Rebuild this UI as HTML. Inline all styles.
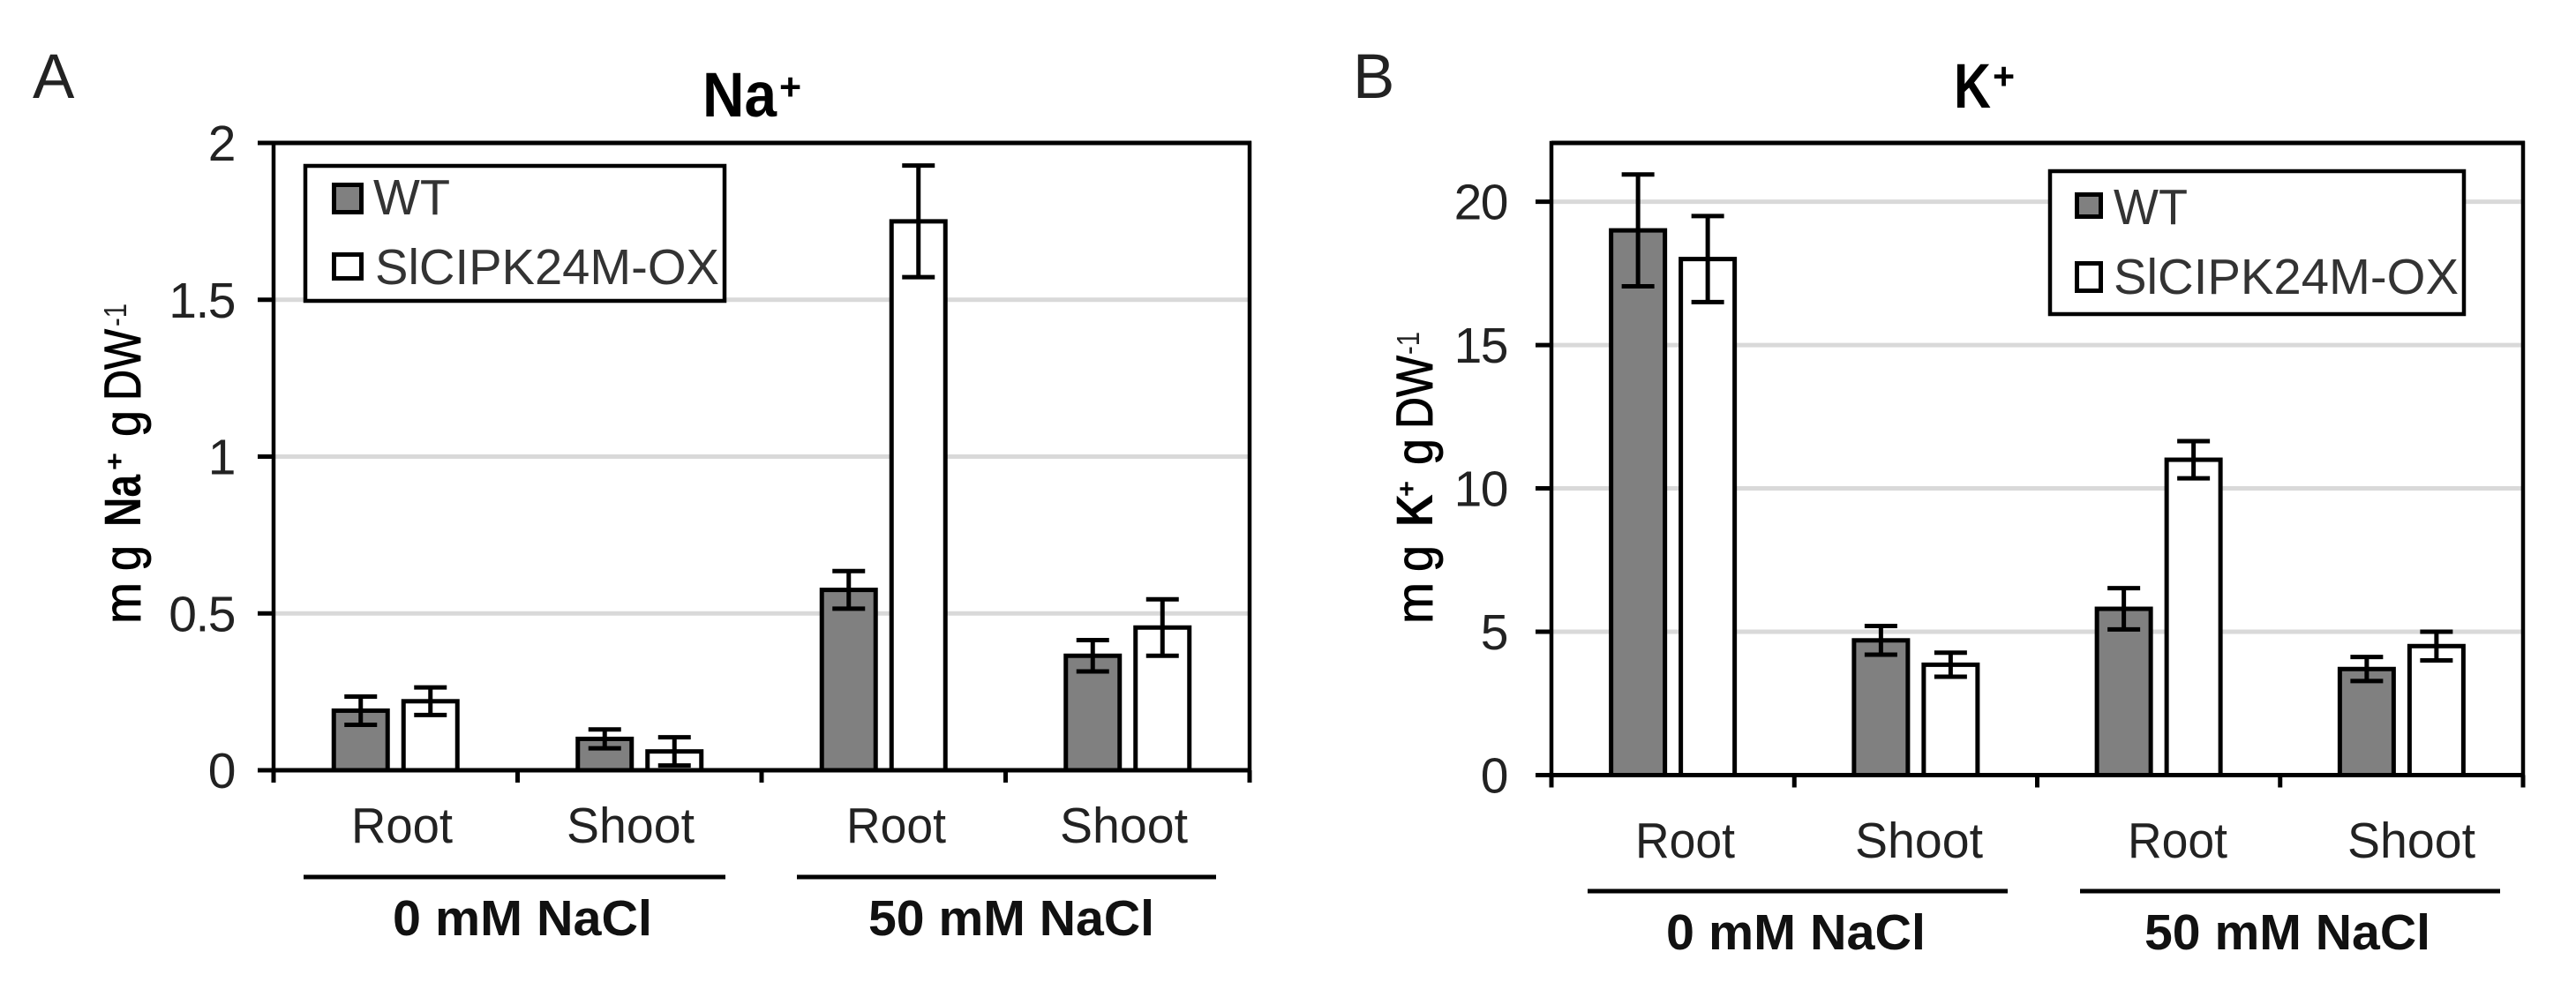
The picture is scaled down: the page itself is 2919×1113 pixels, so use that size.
<!DOCTYPE html>
<html lang="en">
<head>
<meta charset="utf-8">
<title>Na+ and K+ content</title>
<style>
html,body{margin:0;padding:0;background:#fff;}
svg{display:block;}
text{font-family:"Liberation Sans",sans-serif;fill:#111;}
.tick{font-size:57px;letter-spacing:-1.5px;text-anchor:end;fill:#222;}
.cat{font-size:57px;fill:#222;}
.grp{font-size:57px;font-weight:bold;fill:#111;}
.leg{font-size:57px;fill:#333;}
.ttl{font-size:71px;font-weight:bold;fill:#000;}
.ttlp{font-size:43px;font-weight:bold;fill:#000;}
.pan{font-size:71px;fill:#222;}
.yt{font-size:58px;fill:#000;stroke:#000;stroke-width:.9px;}
.ytb{font-size:58px;font-weight:bold;fill:#000;}
.yts{font-size:36px;fill:#222;}
.ytp{font-size:30px;font-weight:bold;fill:#000;}
</style>
</head>
<body>
<svg id="fig" xmlns="http://www.w3.org/2000/svg" width="2919" height="1113" viewBox="0 0 2919 1113">
<rect x="0" y="0" width="2919" height="1113" fill="#fff"/>
<g id="panelA"></g>
<g id="panelB"></g>

<!-- Panel A text -->
<text class="pan" x="37" y="111">A</text>
<text class="ttl" x="796" y="132" textLength="84" lengthAdjust="spacingAndGlyphs">Na</text>
<text class="ttlp" x="883" y="113">+</text>
<g>
<text class="yt" transform="translate(159,707) rotate(-90)" textLength="47" lengthAdjust="spacingAndGlyphs">m</text>
<text class="yt" transform="translate(159,647) rotate(-90)" textLength="29" lengthAdjust="spacingAndGlyphs">g</text>
<text class="ytb" transform="translate(159,597) rotate(-90)" textLength="59" lengthAdjust="spacingAndGlyphs">Na</text>
<text class="ytp" transform="translate(140,533) rotate(-90)" textLength="20" lengthAdjust="spacingAndGlyphs">+</text>
<text class="yt" transform="translate(159,495) rotate(-90)" textLength="30" lengthAdjust="spacingAndGlyphs">g</text>
<text class="yt" transform="translate(159,454) rotate(-90)" textLength="81" lengthAdjust="spacingAndGlyphs">DW</text>
<text class="yts" transform="translate(143,370) rotate(-90)" textLength="26" lengthAdjust="spacingAndGlyphs">-1</text>
</g>
<text class="cat" x="398" y="955" textLength="115" lengthAdjust="spacingAndGlyphs">Root</text>
<text class="cat" x="642" y="955" textLength="145" lengthAdjust="spacingAndGlyphs">Shoot</text>
<text class="cat" x="959" y="955" textLength="113" lengthAdjust="spacingAndGlyphs">Root</text>
<text class="cat" x="1201" y="955" textLength="145" lengthAdjust="spacingAndGlyphs">Shoot</text>
<rect x="344" y="991.5" width="478" height="5" fill="#000"/>
<rect x="903" y="991.5" width="475" height="5" fill="#000"/>
<text class="grp" x="445" y="1060" textLength="294" lengthAdjust="spacingAndGlyphs">0 mM NaCl</text>
<text class="grp" x="984" y="1060" textLength="324" lengthAdjust="spacingAndGlyphs">50 mM NaCl</text>
<g>
<rect x="346" y="188" width="475" height="153" fill="#fff" stroke="#000" stroke-width="4.5"/>
<rect x="378.5" y="209.5" width="31" height="31" fill="#808080" stroke="#000" stroke-width="5"/>
<text class="leg" x="423" y="243" textLength="87" lengthAdjust="spacingAndGlyphs">WT</text>
<rect x="378.5" y="288.5" width="31" height="27" fill="#fff" stroke="#000" stroke-width="5"/>
<text class="leg" x="425" y="322" textLength="390" lengthAdjust="spacingAndGlyphs">SlCIPK24M-OX</text>
</g>

<!-- Panel B text -->
<text class="pan" x="1533" y="111">B</text>
<text class="ttl" x="2214" y="122" textLength="42" lengthAdjust="spacingAndGlyphs">K</text>
<text class="ttlp" x="2258" y="101">+</text>
<g>
<text class="yt" transform="translate(1623,707) rotate(-90)" textLength="47" lengthAdjust="spacingAndGlyphs">m</text>
<text class="yt" transform="translate(1623,648) rotate(-90)" textLength="30" lengthAdjust="spacingAndGlyphs">g</text>
<text class="ytb" transform="translate(1623,597) rotate(-90)" textLength="37" lengthAdjust="spacingAndGlyphs">K</text>
<text class="ytp" transform="translate(1604,563) rotate(-90)" textLength="18" lengthAdjust="spacingAndGlyphs">+</text>
<text class="yt" transform="translate(1623,527) rotate(-90)" textLength="30" lengthAdjust="spacingAndGlyphs">g</text>
<text class="yt" transform="translate(1623,486) rotate(-90)" textLength="83" lengthAdjust="spacingAndGlyphs">DW</text>
<text class="yts" transform="translate(1608,402) rotate(-90)" textLength="26" lengthAdjust="spacingAndGlyphs">-1</text>
</g>
<text class="cat" x="1853" y="972" textLength="113" lengthAdjust="spacingAndGlyphs">Root</text>
<text class="cat" x="2102" y="972" textLength="145" lengthAdjust="spacingAndGlyphs">Shoot</text>
<text class="cat" x="2411" y="972" textLength="113" lengthAdjust="spacingAndGlyphs">Root</text>
<text class="cat" x="2660" y="972" textLength="145" lengthAdjust="spacingAndGlyphs">Shoot</text>
<rect x="1799" y="1007.5" width="476" height="5" fill="#000"/>
<rect x="2357" y="1007.5" width="476" height="5" fill="#000"/>
<text class="grp" x="1888" y="1076" textLength="294" lengthAdjust="spacingAndGlyphs">0 mM NaCl</text>
<text class="grp" x="2430" y="1076" textLength="324" lengthAdjust="spacingAndGlyphs">50 mM NaCl</text>
<g>
<rect x="2323" y="194" width="469" height="162" fill="#fff" stroke="#000" stroke-width="4.5"/>
<rect x="2353.5" y="220.5" width="27" height="25" fill="#808080" stroke="#000" stroke-width="5"/>
<text class="leg" x="2395" y="254" textLength="84" lengthAdjust="spacingAndGlyphs">WT</text>
<rect x="2353.5" y="298.5" width="27" height="31" fill="#fff" stroke="#000" stroke-width="5"/>
<text class="leg" x="2395" y="333" textLength="391" lengthAdjust="spacingAndGlyphs">SlCIPK24M-OX</text>
</g>
</svg>

<script>
const categories = ['Root 0 mM', 'Shoot 0 mM', 'Root 50 mM', 'Shoot 50 mM'];

const naWT = [0.19, 0.10, 0.575, 0.365];
const naOX = [0.22, 0.06, 1.75, 0.455];
const naWTErr = [0.045, 0.03, 0.06, 0.05];
const naOXErr = [0.044, 0.045, 0.178, 0.09];
const naTickValues = [0, 0.5, 1, 1.5, 2];
const naTickLabels = ['0', '0.5', '1', '1.5', '2'];

const kWT = [19, 4.7, 5.8, 3.7];
const kOX = [18, 3.85, 11, 4.5];
const kWTErr = [1.95, 0.5, 0.72, 0.42];
const kOXErr = [1.5, 0.42, 0.65, 0.5];
const kTickValues = [0, 5, 10, 15, 20];
const kTickLabels = ['0', '5', '10', '15', '20'];

const NS = 'http://www.w3.org/2000/svg';

function mk(parent, tag, attrs) {
  const el = document.createElementNS(NS, tag);
  for (const k in attrs) el.setAttribute(k, attrs[k]);
  parent.appendChild(el);
  return el;
}

function drawPanel(root, frame, wt, ox, wtErr, oxErr, tickValues, tickLabels) {
  const y = v => frame.bottom - (v / frame.yMax) * (frame.bottom - frame.top);
  const band = (frame.right - frame.left) / categories.length;
  const xCenter = i => frame.left + (i + 0.5) * band;
  const barOffset = 39.5;
  const barW = 61;
  const capW = 37;
  const sw = 5;

  tickValues.forEach((v, i) => {
    if (v > 0) {
      const grid = mk(root, 'line', {x1: frame.left, x2: frame.right, y1: y(v), y2: y(v), stroke: '#d9d9d9', 'stroke-width': sw});
      
      
    }
    const tick = mk(root, 'line', {x1: frame.left - 18, x2: frame.left, y1: y(v), y2: y(v), stroke: '#000', 'stroke-width': sw});
    
    
    const label = mk(root, 'text', {x: frame.labelX, y: y(v) + 20, class: 'tick'});
    label.textContent = tickLabels[i];
    
    
  });

  const plot = mk(root, 'rect', {x: frame.left, y: frame.top, width: frame.right - frame.left, height: frame.bottom - frame.top, fill: 'none', stroke: '#000', 'stroke-width': 4.5});
  
  

  for (let i = 0; i <= categories.length; i++) {
    const xt = frame.left + i * band;
    const t = mk(root, 'line', {x1: xt, x2: xt, y1: frame.bottom, y2: frame.bottom + 14, stroke: '#000', 'stroke-width': sw});
    
    
  }

  const seriesList = [
    {name: 'wt', vals: wt, errs: wtErr, off: -barOffset, fill: '#808080'},
    {name: 'ox', vals: ox, errs: oxErr, off: barOffset, fill: '#ffffff'}
  ];
  seriesList.forEach(s => {
    s.vals.forEach((v, i) => {
      const cx = xCenter(i) + s.off;
      const bar = mk(root, 'rect', {x: cx - barW / 2, y: y(v), width: barW, height: frame.bottom - y(v), fill: s.fill, stroke: '#000', 'stroke-width': sw});
      
      
      const hi = y(v + s.errs[i]);
      const lo = y(v - s.errs[i]);
      const stem = mk(root, 'line', {x1: cx, x2: cx, y1: hi, y2: lo, stroke: '#000', 'stroke-width': sw});
      
      
      [hi, lo].forEach(py => {
        const cap = mk(root, 'line', {x1: cx - capW / 2, x2: cx + capW / 2, y1: py, y2: py, stroke: '#000', 'stroke-width': sw});
        
        
      });
    });
  });

  const axis = mk(root, 'line', {x1: frame.left - 18, x2: frame.right + 2, y1: frame.bottom, y2: frame.bottom, stroke: '#000', 'stroke-width': sw});
  
  
  const topLine = mk(root, 'line', {x1: frame.left, x2: frame.right + 2, y1: frame.top, y2: frame.top, stroke: '#000', 'stroke-width': sw});
  
  
}

drawPanel(document.getElementById('panelA'),
  {left: 310, right: 1416, top: 162, bottom: 873, yMax: 2, labelX: 266},
  naWT, naOX, naWTErr, naOXErr, naTickValues, naTickLabels);
drawPanel(document.getElementById('panelB'),
  {left: 1758, right: 2859, top: 162, bottom: 878.5, yMax: 22.05, labelX: 1708},
  kWT, kOX, kWTErr, kOXErr, kTickValues, kTickLabels);
</script>
</body>
</html>
